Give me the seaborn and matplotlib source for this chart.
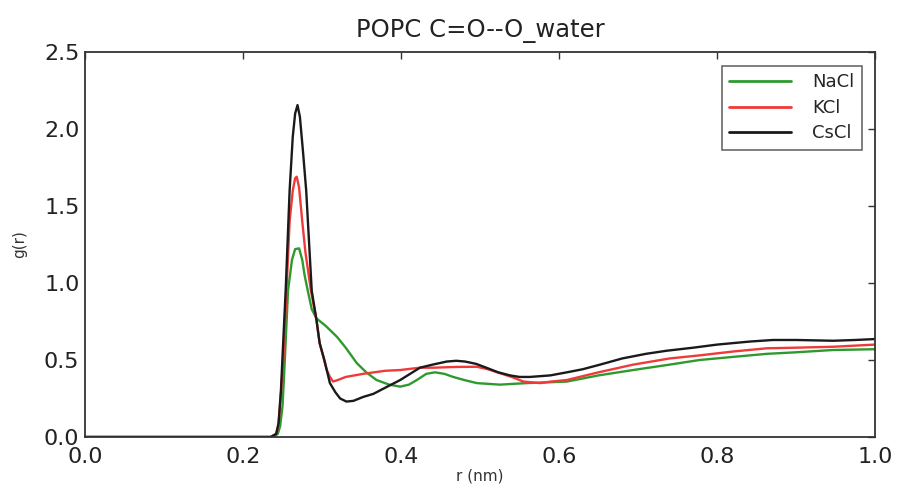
import numpy as np
import pandas as pd
import matplotlib
matplotlib.use("Agg")
import matplotlib.pyplot as plt
import seaborn as sns

# --- data ---
nacl_r = [0.0, 0.238, 0.244, 0.247, 0.25, 0.252, 0.257, 0.262, 0.266, 0.271, 0.275, 0.278, 0.282,
          0.287, 0.293, 0.305, 0.319, 0.33, 0.344, 0.356, 0.369, 0.385, 0.399, 0.41, 0.42, 0.432,
          0.443, 0.455, 0.466, 0.48, 0.496, 0.525, 0.559, 0.585, 0.61, 0.65, 0.694, 0.74, 0.778,
          0.82, 0.863, 0.9, 0.947, 1.0]
nacl_g = [0.0, 0.0, 0.02, 0.07, 0.2, 0.4, 0.95, 1.15, 1.22, 1.225, 1.15, 1.05, 0.95,
          0.83, 0.77, 0.72, 0.65, 0.58, 0.48, 0.42, 0.37, 0.34, 0.327, 0.34, 0.37, 0.41,
          0.42, 0.41, 0.39, 0.37, 0.35, 0.34, 0.35, 0.355, 0.36, 0.40, 0.435, 0.47, 0.50,
          0.52, 0.54, 0.55, 0.565, 0.57]

kcl_r = [0.0, 0.235, 0.242, 0.245, 0.248, 0.251, 0.255, 0.259, 0.263, 0.266, 0.268, 0.271, 0.275,
         0.279, 0.286, 0.293, 0.297, 0.306, 0.31, 0.314, 0.32, 0.33, 0.352, 0.38, 0.399, 0.424,
         0.441, 0.47, 0.496, 0.51, 0.525, 0.54, 0.555, 0.576, 0.59, 0.61, 0.65, 0.694, 0.74,
         0.778, 0.82, 0.863, 0.9, 0.947, 1.0]
kcl_g = [0.0, 0.0, 0.02, 0.08, 0.28, 0.5, 0.95, 1.4, 1.6, 1.68, 1.69, 1.62, 1.4,
         1.2, 0.95, 0.76, 0.61, 0.435, 0.39, 0.36, 0.37, 0.39, 0.41, 0.43, 0.435, 0.45,
         0.45, 0.455, 0.456, 0.44, 0.415, 0.39, 0.36, 0.35, 0.36, 0.37, 0.42, 0.47, 0.51,
         0.53, 0.555, 0.576, 0.58, 0.586, 0.60]

cscl_r = [0.0, 0.235, 0.242, 0.245, 0.248, 0.25, 0.254, 0.259, 0.263, 0.266, 0.269, 0.272, 0.276,
          0.280, 0.287, 0.293, 0.297, 0.303, 0.31, 0.317, 0.323, 0.331, 0.34, 0.352, 0.365, 0.38,
          0.399, 0.424, 0.44, 0.458, 0.47, 0.481, 0.495, 0.508, 0.523, 0.538, 0.55, 0.563, 0.576,
          0.589, 0.61, 0.63, 0.652, 0.68, 0.71, 0.736, 0.77, 0.80, 0.842, 0.871, 0.9, 0.947,
          0.975, 1.0]
cscl_g = [0.0, 0.0, 0.02, 0.09, 0.3, 0.52, 0.95, 1.6, 1.95, 2.1, 2.155, 2.08, 1.85,
          1.6, 0.95, 0.76, 0.61, 0.5, 0.35, 0.29, 0.25, 0.23, 0.235, 0.26, 0.28, 0.32,
          0.37, 0.45, 0.47, 0.49, 0.495, 0.49, 0.475, 0.45, 0.42, 0.40, 0.39, 0.39, 0.395,
          0.40, 0.42, 0.44, 0.47, 0.51, 0.54, 0.56, 0.58, 0.60, 0.62, 0.63, 0.63, 0.625,
          0.63, 0.636]

labels = ["NaCl", "KCl", "CsCl"]
series_r = [nacl_r, kcl_r, cscl_r]
series_g = [nacl_g, kcl_g, cscl_g]
colors = ["#2e9a2e", "#f03a3a", "#1a1a1a"]

df = pd.concat([pd.DataFrame({"r": r, "g": g, "salt": lab})
                for r, g, lab in zip(series_r, series_g, labels)], ignore_index=True)

sns.set_style("white")
plt.rcParams["font.family"] = ["DejaVu Sans"]

fig = plt.figure(figsize=(8.97, 4.93), dpi=100)
ax = fig.add_axes([85 / 897, (493 - 437) / 493, 790 / 897, 385 / 493])

sns.lineplot(data=df, x="r", y="g", hue="salt", hue_order=labels,
             palette=dict(zip(labels, colors)), linewidth=1.7, ax=ax,
             sort=False, estimator=None)

ax.set_xlim(0, 1.0)
ax.set_ylim(0, 2.5)
ax.set_xticks([0.0, 0.2, 0.4, 0.6, 0.8, 1.0])
ax.set_yticks([0.0, 0.5, 1.0, 1.5, 2.0, 2.5])
ax.tick_params(direction="in", top=True, right=True, length=5, width=1,
               labelsize=16, colors="#333333", labelcolor="#222222")
ax.tick_params(axis="x", pad=7)
ax.tick_params(axis="y", pad=4)
for s in ax.spines.values():
    s.set_visible(True)
    s.set_color("#333333")
    s.set_linewidth(1.3)

ax.set_xlabel("r (nm)", fontsize=11, labelpad=1, color="#333333")
ax.set_ylabel("g(r)", fontsize=11, labelpad=12, color="#333333")
ax.set_title("POPC C=O--O_water", fontsize=17.5, pad=11, color="#222222")

leg = ax.legend(loc="upper right", bbox_to_anchor=(0.9835, 0.9636), fontsize=13,
                frameon=True, fancybox=False, edgecolor="#444444",
                handlelength=3.4, borderpad=0.4, labelspacing=0.42, handletextpad=1.2,
                borderaxespad=0)
leg.get_frame().set_linewidth(1.2)
for h in leg.get_lines():
    h.set_linewidth(2)

fig.savefig("out.png", dpi=100)
